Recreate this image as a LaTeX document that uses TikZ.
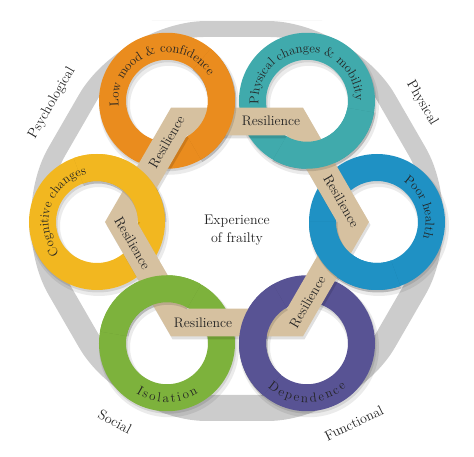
\documentclass[tikz,border=0pt]{standalone}
\usepackage{tikz}
\usetikzlibrary{decorations.text}

\definecolor{bandgray}{RGB}{204,204,204}
\definecolor{ribbontan}{RGB}{214,193,160}
\definecolor{moodorange}{RGB}{234,140,30}
\definecolor{physteal}{RGB}{64,170,172}
\definecolor{healthblue}{RGB}{31,145,196}
\definecolor{dependpurple}{RGB}{88,83,148}
\definecolor{isolgreen}{RGB}{125,178,60}
\definecolor{cogyellow}{RGB}{242,183,32}
\definecolor{inkgray}{RGB}{35,35,35}

\newcommand{\ringfont}{\fontsize{12.8}{14}\selectfont}
\newcommand{\lowfont}{\fontsize{13}{15}\selectfont}
\newcommand{\labelfont}{\fontsize{14}{18}\selectfont}

\begin{document}
\begin{tikzpicture}[x=1pt,y=1pt,
  resil/.style={text=inkgray,font=\fontsize{13.8}{16}\selectfont,inner sep=0pt},
  sidelabel/.style={text=inkgray,font=\labelfont,inner sep=0pt},
  ringlabel/.style={decorate,decoration={text along path,text align=center,text color=inkgray}}]
\useasboundingbox (-237,-235) rectangle (237,222);

% gray hexagon band
\fill[bandgray,even odd rule]
  [rounded corners=85pt] (0,201) -- (115.5,201) -- (231,1) -- (115.5,-199) -- (-115.5,-199) -- (-231,1) -- (-115.5,201) -- cycle
  [rounded corners=70pt] (0,185) -- (103.4,185) -- (206.7,6) -- (103.4,-173) -- (-103.4,-173) -- (-206.7,6) -- (-103.4,185) -- cycle;

% rings
\foreach \ang in {120,60,0,-60,-120,180}{
  \fill[black,opacity=.08,even odd rule] ([shift={(2,-4)}]\ang:140) circle (70) ([shift={(2,-4)}]\ang:140) circle (39);
  \fill[black,opacity=.10,even odd rule] ([shift={(1,-2)}]\ang:140) circle (68.5) ([shift={(1,-2)}]\ang:140) circle (40.5);
}
\foreach \ang/\col in {120/moodorange,60/physteal,0/healthblue,-60/dependpurple,-120/isolgreen,180/cogyellow}
  \fill[\col,even odd rule] (\ang:140) circle (68) (\ang:140) circle (41);

% resilience ribbon
\fill[black,opacity=.12,even odd rule,shift={(1.5,-3)}]
  (0:132) -- (60:132) -- (120:132) -- (180:132) -- (240:132) -- (300:132) -- cycle
  (0:100) -- (60:100) -- (120:100) -- (180:100) -- (240:100) -- (300:100) -- cycle;
\fill[ribbontan,even odd rule]
  (0:132) -- (60:132) -- (120:132) -- (180:132) -- (240:132) -- (300:132) -- cycle
  (0:100) -- (60:100) -- (120:100) -- (180:100) -- (240:100) -- (300:100) -- cycle;

% each ring passes over the ribbon once
\foreach \ang/\col in {120/moodorange,60/physteal,0/healthblue,-60/dependpurple,-120/isolgreen,180/cogyellow}{
  \begin{scope}
    \clip (\ang:140) -- ++(\ang-180:80) arc[start angle=\ang-180,end angle=\ang-70,radius=80] -- cycle;
    \fill[black,opacity=.12,even odd rule] ([shift={(1,-2)}]\ang:140) circle (68.5) ([shift={(1,-2)}]\ang:140) circle (40.5);
    \fill[\col,even odd rule] (\ang:140) circle (68) (\ang:140) circle (41);
  \end{scope}
}

\foreach \a/\r [count=\i] in {90/0,30/-60,-30/60,-90/0,-150/-60,150/60}
  \node[resil,rotate=\r] (res\i) at ([shift={(\a-90:34)}]\a:101) {Resilience};

% ring texts
\path[ringlabel,decoration={text={|\ringfont|Low mood {\&} confidence}}]
  ([shift={(120:140)}]214:48.5) arc[start angle=214,end angle=4,radius=48.5];
\path[ringlabel,decoration={text={|\ringfont|Physical changes {\&} mobility}}]
  ([shift={(60:140)}]207:48.5) arc[start angle=207,end angle=-23,radius=48.5];
\path[ringlabel,decoration={text={|\ringfont|Poor health}}]
  ([shift={(0:140)}]99:48.5) arc[start angle=99,end angle=-61,radius=48.5];
\path[ringlabel,decoration={text={|\ringfont|Cognitive changes}}]
  ([shift={(180:140)}]251:48.5) arc[start angle=251,end angle=71,radius=48.5];
\path[ringlabel,decoration={text={|\lowfont|I{\,}s{\,}o{\,}l{\,}a{\,}t{\,}i{\,}o{\,}n}}]
  ([shift={(-120:140)}]190:59) arc[start angle=190,end angle=350,radius=59];
\path[ringlabel,decoration={text={|\lowfont|D{\,}e{\,}p{\,}e{\,}n{\,}d{\,}e{\,}n{\,}c{\,}e}}]
  ([shift={(-60:140)}]190:59) arc[start angle=190,end angle=350,radius=59];

\node[sidelabel,align=center] (frailty) at (0,-8) {Experience\\of frailty};

\node[sidelabel,rotate=60] (psych) at (-185,119) {Psychological};
\node[sidelabel,rotate=-60] (phys) at (185,119) {Physical};
\node[sidelabel,rotate=-28] (social) at (-122,-200) {Social};
\node[sidelabel,rotate=26] (funct) at (117,-201) {Functional};
\end{tikzpicture}
\end{document}
